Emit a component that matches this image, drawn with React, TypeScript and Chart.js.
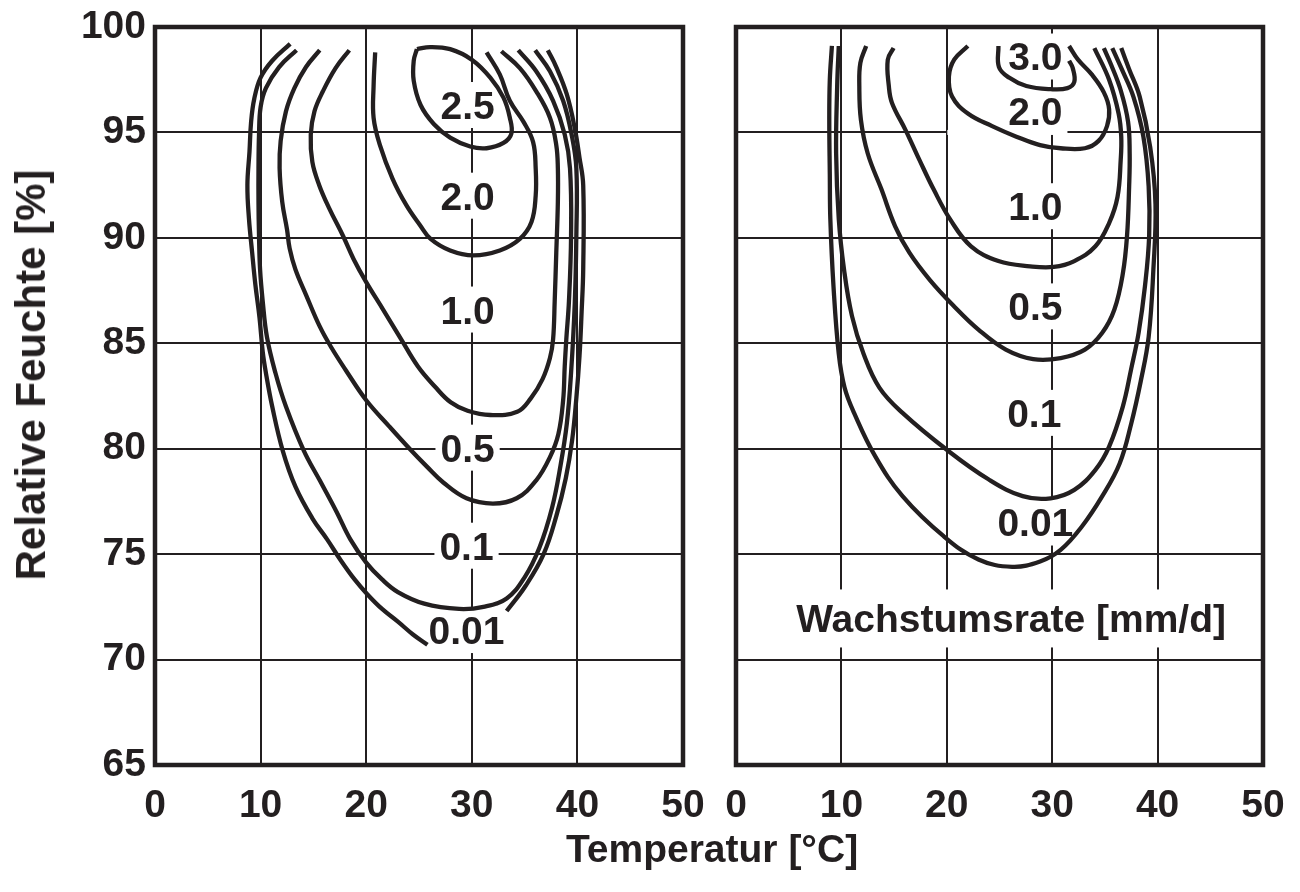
import React, { useEffect, useRef } from "react";
import { Chart, registerables } from "chart.js";

Chart.register(...registerables);

type Pt = [number, number];

// ---------- axis ranges / ticks ----------
const xTickValues = [0, 10, 20, 30, 40, 50];
const yTickValues = [65, 70, 75, 80, 85, 90, 95, 100];

// ---------- LEFT PANEL contours (Temperatur °C, Relative Feuchte %) ----------
const left_001_a: Pt[] = [
  [12.8, 99.2], [11.1, 98.4], [10.0, 97.6], [9.4, 96.6], [9.1, 95.5], [8.95, 94.1], [8.75, 92.5],
  [8.9, 90.9], [9.2, 89.3], [9.5, 87.8], [9.9, 86.2], [10.2, 84.6], [10.5, 83.6], [11.1, 82.0],
  [12.1, 79.9], [13.3, 78.2], [14.9, 76.7], [16.3, 75.7], [17.6, 74.7], [18.9, 73.8], [20.1, 73.1],
  [21.5, 72.4], [23.0, 71.8], [24.4, 71.2], [25.8, 70.7],
];
const left_001_b: Pt[] = [
  [33.3, 72.3], [35.1, 73.5], [36.8, 75.0], [38.0, 76.8], [38.9, 78.6], [39.5, 80.4], [39.9, 82.4],
  [40.2, 84.4], [40.4, 86.5], [40.55, 88.5], [40.55, 92.5], [40.2, 93.8], [39.75, 95.2], [39.0, 96.8],
  [38.0, 98.1], [37.2, 98.9],
];
const left_01: Pt[] = [
  [13.4, 98.9], [11.75, 98.1], [10.5, 97.1], [10.0, 96.2], [9.85, 94.9], [9.8, 93.3], [9.8, 91.7],
  [9.85, 90.1], [9.95, 88.5], [10.2, 87.0], [10.6, 85.3], [11.4, 83.6], [12.4, 82.0], [14.1, 79.9],
  [15.6, 78.5], [17.2, 77.0], [18.5, 75.7], [20.0, 74.6], [21.5, 73.8], [23.0, 73.2], [25.5, 72.65],
  [28.8, 72.4], [31.1, 72.5], [33.3, 72.9], [35.0, 73.9], [36.4, 75.3], [37.6, 77.2],
  [38.4, 79.2], [39.0, 81.2], [39.4, 83.6], [39.75, 86.9], [39.9, 90.1], [39.9, 93.3], [39.45, 94.9],
  [38.65, 96.5], [37.4, 97.9], [36.0, 98.9],
];
const left_05: Pt[] = [
  [15.6, 98.9], [14.3, 98.1], [13.2, 97.1], [12.4, 96.0], [11.9, 94.6], [11.8, 93.3], [12.05, 91.7],
  [12.5, 90.4], [12.75, 89.5], [13.3, 88.5], [14.3, 87.3], [15.6, 85.8], [16.7, 84.8], [18.1, 83.7],
  [20.0, 82.3], [22.2, 81.05], [24.2, 79.95], [25.75, 79.15], [27.3, 78.4], [29.5, 77.65], [32.0, 77.4],
  [34.25, 77.65], [36.1, 78.5], [37.4, 79.6], [38.2, 80.7], [38.65, 82.3], [38.8, 83.9], [38.95, 85.2],
  [39.2, 87.0], [39.4, 90.1], [39.3, 93.3], [38.8, 94.9], [37.7, 96.5], [36.1, 97.9], [34.4, 98.9],
];
const left_10: Pt[] = [
  [18.4, 98.9], [17.1, 98.05], [15.9, 96.95], [15.1, 96.0], [14.75, 94.9], [14.9, 93.6], [15.55, 92.5],
  [16.5, 91.4], [17.8, 90.1], [18.8, 89.0], [20.0, 87.9], [21.6, 86.6], [23.3, 85.2], [24.9, 83.9],
  [26.5, 82.95], [28.0, 82.2], [29.6, 81.8], [31.75, 81.6], [34.3, 81.75], [35.6, 82.4], [36.7, 83.3],
  [37.4, 84.3], [37.7, 85.2], [37.85, 87.0], [38.0, 89.3], [38.15, 91.7], [38.15, 93.3], [38.0, 94.4],
  [37.4, 95.7], [36.1, 96.95], [34.55, 98.05], [32.8, 98.85],
];
const left_20: Pt[] = [
  [20.85, 98.8], [20.7, 97.2], [20.7, 95.7], [21.3, 94.4], [22.5, 92.8], [23.8, 91.55], [25.1, 90.6],
  [26.1, 89.95], [27.95, 89.4], [30.15, 89.17], [32.65, 89.4], [34.55, 89.95], [35.65, 90.75],
  [36.05, 92.0], [36.05, 93.3], [35.8, 94.55], [34.9, 95.5], [33.6, 96.5], [32.65, 97.75], [31.4, 98.8],
];
const left_25: Pt[] = [
  [24.8, 98.95], [26.05, 99.05], [27.95, 98.95], [30.0, 98.45], [31.75, 97.6], [33.0, 96.65],
  [33.6, 95.7], [33.75, 94.95], [33.0, 94.5], [31.4, 94.25], [29.85, 94.33], [27.95, 94.75],
  [26.4, 95.4], [25.15, 96.3], [24.5, 97.45], [24.5, 98.4], [24.8, 98.95],
];

// ---------- RIGHT PANEL contours ----------
const right_001: Pt[] = [
  [9.1, 99.1], [8.9, 97.5], [8.85, 95.6], [8.9, 93.0], [8.95, 90.9], [9.25, 87.7], [9.75, 84.5],
  [10.3, 82.9], [11.2, 81.7], [13.2, 79.65], [15.8, 77.75], [19.7, 75.85], [23.0, 74.75], [26.2, 74.4],
  [28.85, 74.65], [30.8, 75.2], [32.8, 76.3], [34.75, 77.75], [36.4, 79.3], [37.5, 81.2], [38.4, 83.2],
  [39.15, 85.3], [39.6, 88.5], [39.8, 91.6], [39.3, 94.3], [38.3, 96.7], [37.3, 98.0], [36.55, 99.0],
];
const right_01: Pt[] = [
  [9.75, 99.1], [9.6, 97.2], [9.5, 94.0], [9.75, 90.9], [10.25, 88.5], [11.0, 86.3], [12.1, 84.5],
  [13.6, 82.9], [15.8, 81.7], [20.0, 79.95], [23.95, 78.55], [27.2, 77.75], [29.85, 77.65],
  [32.1, 78.05], [34.1, 79.0], [35.4, 80.1], [36.7, 82.0], [37.5, 83.8], [38.2, 85.5], [38.8, 87.7],
  [39.2, 90.1], [39.15, 92.45], [38.65, 94.8], [37.7, 96.7], [36.6, 98.0], [35.7, 99.0],
];
const right_05: Pt[] = [
  [12.35, 99.1], [11.8, 98.3], [11.7, 97.2], [11.85, 95.6], [12.5, 94.0], [13.8, 92.3], [15.1, 90.55],
  [16.45, 89.3], [18.4, 88.0], [20.7, 86.75], [23.0, 85.65], [25.6, 84.7], [28.2, 84.25], [30.8, 84.3],
  [33.1, 84.7], [34.75, 85.5], [35.9, 86.6], [36.7, 88.3], [37.1, 90.1], [37.3, 92.45], [37.35, 94.0],
  [37.2, 95.5], [36.5, 97.0], [35.6, 98.2], [34.9, 99.0],
];
const right_10: Pt[] = [
  [14.95, 99.0], [14.4, 98.45], [14.5, 97.2], [14.8, 96.4], [16.1, 95.1], [17.4, 93.7], [18.75, 92.3],
  [20.35, 90.85], [22.3, 89.6], [24.9, 88.9], [27.9, 88.65], [30.15, 88.62], [32.1, 88.9], [34.1, 89.6],
  [35.4, 90.7], [36.2, 91.95], [36.5, 93.7], [36.55, 94.8], [36.3, 95.9], [35.4, 97.5], [34.0, 99.0],
];
const right_20: Pt[] = [
  [22.0, 99.1], [20.7, 98.45], [20.2, 97.65], [20.5, 96.7], [22.0, 95.9], [24.3, 95.3], [26.6, 94.8],
  [28.85, 94.4], [30.8, 94.25], [33.1, 94.25], [34.4, 94.6], [35.2, 95.3], [35.4, 96.1], [34.9, 96.9],
  [33.75, 97.75], [32.45, 98.45], [31.6, 99.1],
];
const right_30: Pt[] = [
  [24.9, 99.1], [24.95, 98.1], [25.9, 97.6], [27.55, 97.2], [29.85, 97.05], [31.45, 97.1],
  [32.1, 97.4], [31.95, 98.05], [31.6, 98.4],
];

const leftSeries: Pt[][] = [left_001_a, left_001_b, left_01, left_05, left_10, left_20, left_25];
const rightSeries: Pt[][] = [right_001, right_01, right_05, right_10, right_20, right_30];

// ---------- contour labels (text + data position) ----------
interface Ann { text: string; x: number; y: number; h?: number }
interface Mask { x1: number; x2: number; y: number; h: number }

const leftLabels: Ann[] = [
  { text: "2.5", x: 29.6, y: 96.3 },
  { text: "2.0", x: 29.6, y: 92.0 },
  { text: "1.0", x: 29.6, y: 86.6 },
  { text: "0.5", x: 29.6, y: 80.05 },
  { text: "0.1", x: 29.5, y: 75.4 },
  { text: "0.01", x: 29.5, y: 71.4 },
];
const rightLabels: Ann[] = [
  { text: "3.0", x: 28.4, y: 98.6 },
  { text: "2.0", x: 28.4, y: 96.0 },
  { text: "1.0", x: 28.4, y: 91.5 },
  { text: "0.5", x: 28.4, y: 86.75 },
  { text: "0.1", x: 28.3, y: 81.7 },
  { text: "0.01", x: 28.4, y: 76.5 },
  { text: "Wachstumsrate [mm/d]", x: 26.1, y: 71.95, h: 58 },
];
const rightMasks: Mask[] = [{ x1: 20.05, x2: 31.2, y: 95, h: 5 }];

// ---------- styling ----------
const INK = "#231f20";
const FAMILY = '"Liberation Sans", Arial, Helvetica, sans-serif';
const FSIZE = 39;
const FONT = `bold ${FSIZE}px ${FAMILY}`;

function buildChart(
  canvas: HTMLCanvasElement,
  series: Pt[][],
  anns: Ann[],
  masks: Mask[],
  showY: boolean,
  yWidth: number,
  padRight: number
) {
  const annPlugin = {
    id: "contourAnnotations",
    beforeDatasetsDraw(chart: any) {
      const { ctx } = chart;
      const xs = chart.scales.x;
      const ys = chart.scales.y;
      ctx.save();
      ctx.fillStyle = "#ffffff";
      ctx.font = FONT;
      for (const a of anns) {
        const px = xs.getPixelForValue(a.x);
        const py = ys.getPixelForValue(a.y);
        const w = ctx.measureText(a.text).width + 10;
        const h = a.h ?? 46;
        ctx.fillRect(px - w / 2, py - h / 2, w, h);
      }
      for (const m of masks) {
        const x1 = xs.getPixelForValue(m.x1);
        const x2 = xs.getPixelForValue(m.x2);
        const py = ys.getPixelForValue(m.y);
        ctx.fillRect(x1, py - m.h / 2, x2 - x1, m.h);
      }
      ctx.restore();
    },
    afterDatasetsDraw(chart: any) {
      const { ctx, chartArea } = chart;
      const xs = chart.scales.x;
      const ys = chart.scales.y;
      ctx.save();
      ctx.fillStyle = INK;
      ctx.font = FONT;
      ctx.textAlign = "center";
      ctx.textBaseline = "alphabetic";
      for (const a of anns) {
        const px = xs.getPixelForValue(a.x);
        const py = ys.getPixelForValue(a.y);
        ctx.fillText(a.text, px, py + FSIZE * 0.358);
      }
      ctx.strokeStyle = INK;
      ctx.lineWidth = 4.5;
      ctx.strokeRect(
        chartArea.left,
        chartArea.top,
        chartArea.right - chartArea.left,
        chartArea.bottom - chartArea.top
      );
      ctx.restore();
    },
  };

  return new Chart(canvas, {
    type: "scatter",
    data: {
      datasets: series.map((pts) => ({
        data: pts.map(([x, y]) => ({ x, y })),
        showLine: true,
        borderColor: INK,
        backgroundColor: INK,
        borderWidth: 4.3,
        pointRadius: 0,
        pointHoverRadius: 0,
        tension: 0.4,
        fill: false,
        borderJoinStyle: "round",
      })),
    },
    options: {
      animation: false,
      responsive: false,
      maintainAspectRatio: false,
      devicePixelRatio: 1,
      events: [],
      layout: { padding: { top: 27, right: padRight, bottom: 0, left: 0 } },
      plugins: {
        legend: { display: false },
        tooltip: { enabled: false },
        title: { display: false },
      },
      scales: {
        x: {
          type: "linear",
          min: xTickValues[0],
          max: xTickValues[xTickValues.length - 1],
          afterBuildTicks: (scale: any) => {
            scale.ticks = xTickValues.map((v) => ({ value: v }));
          },
          ticks: {
            color: INK,
            font: { family: FAMILY, size: FSIZE, weight: "bold" },
            padding: 18,
            maxRotation: 0,
            autoSkip: false,
          },
          grid: { color: INK, lineWidth: 2, drawTicks: false },
          border: { display: false },
          afterFit: (scale: any) => {
            scale.height = 127;
            scale.paddingLeft = 0;
            scale.paddingRight = 0;
          },
        },
        y: {
          type: "linear",
          min: yTickValues[0],
          max: yTickValues[yTickValues.length - 1],
          afterBuildTicks: (scale: any) => {
            scale.ticks = yTickValues.map((v) => ({ value: v }));
          },
          ticks: {
            display: showY,
            color: INK,
            font: { family: FAMILY, size: FSIZE, weight: "bold" },
            padding: 9,
            autoSkip: false,
          },
          grid: { color: INK, lineWidth: 2, drawTicks: false },
          border: { display: false },
          afterFit: (scale: any) => {
            scale.width = yWidth;
            scale.paddingTop = 0;
            scale.paddingBottom = 0;
          },
        },
      },
    } as any,
    plugins: [annPlugin],
  });
}

export default function App() {
  const leftRef = useRef<HTMLCanvasElement>(null);
  const rightRef = useRef<HTMLCanvasElement>(null);

  useEffect(() => {
    const a = buildChart(leftRef.current!, leftSeries, leftLabels, [], true, 155, 27);
    const b = buildChart(rightRef.current!, rightSeries, rightLabels, rightMasks, false, 26, 37);
    return () => {
      a.destroy();
      b.destroy();
    };
  }, []);

  const titleStyle: React.CSSProperties = {
    position: "absolute",
    font: FONT,
    color: INK,
    lineHeight: 1,
    whiteSpace: "nowrap",
  };

  return (
    <div
      style={{
        position: "fixed",
        left: 0,
        top: 0,
        width: 1300,
        height: 892,
        background: "#ffffff",
        overflow: "hidden",
      }}
    >
      <canvas
        ref={leftRef}
        width={710}
        height={892}
        style={{ position: "absolute", left: 0, top: 0, width: 710, height: 892 }}
      />
      <canvas
        ref={rightRef}
        width={590}
        height={892}
        style={{ position: "absolute", left: 710, top: 0, width: 590, height: 892 }}
      />
      <div
        style={{
          ...titleStyle,
          fontSize: 42,
          left: 31,
          top: 375,
          transform: "translate(-50%, -50%) rotate(-90deg)",
        }}
      >
        Relative Feuchte [%]
      </div>
      <div
        style={{
          ...titleStyle,
          left: 712,
          top: 848,
          transform: "translate(-50%, -50%)",
        }}
      >
        Temperatur [°C]
      </div>
    </div>
  );
}
